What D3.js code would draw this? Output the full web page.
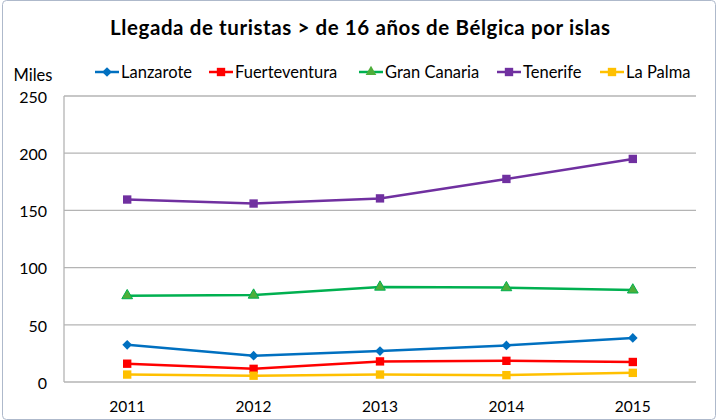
<!DOCTYPE html>
<html>
<head>
<meta charset="utf-8">
<script src="https://cdn.jsdelivr.net/npm/d3@7"></script>
<style>
  body { margin: 0; background: #fff; }
  text { font-family: Lato, "Open Sans", sans-serif; fill: #000; }
</style>
</head>
<body>
<div id="container"></div>
<script>
/* DATA */
const years = ["2011", "2012", "2013", "2014", "2015"];
const lanzarote = [32.5, 23, 27, 32, 38.5];
const fuerteventura = [16, 11.5, 18, 18.5, 17.5];
const granCanaria = [75.5, 76, 83, 82.5, 80.5];
const tenerife = [159.5, 156, 160.5, 177.5, 195];
const laPalma = [6.5, 5.5, 6.5, 6, 8];
const yTicks = [0, 50, 100, 150, 200, 250];

const series = [
  { name: "Lanzarote", values: lanzarote, color: "#0070C0", marker: "diamond" },
  { name: "Fuerteventura", values: fuerteventura, color: "#FF0000", marker: "square" },
  { name: "Gran Canaria", values: granCanaria, color: "#00B050", marker: "triangle" },
  { name: "Tenerife", values: tenerife, color: "#7030A0", marker: "square" },
  { name: "La Palma", values: laPalma, color: "#FFC000", marker: "square" }
];

/* CONSTANTS */
const width = 717;
const height = 420;
const plot = { left: 64, right: 696, top: 96, bottom: 382 };

const svg = d3.select("#container").append("svg")
  .attr("width", width)
  .attr("height", height);

// chart border
svg.append("rect")
  .attr("x", 2.5).attr("y", 0.5)
  .attr("width", width - 4).attr("height", height - 1)
  .attr("rx", 4)
  .attr("fill", "#fff")
  .attr("stroke", "#AEB9CB");

/* SCALES */
const xScale = d3.scaleBand()
  .domain(years)
  .range([plot.left, plot.right]);

const yScale = d3.scaleLinear()
  .domain([0, 250])
  .range([plot.bottom, plot.top]);

// gridlines
svg.append("g")
  .selectAll("line")
  .data(yTicks)
  .join("line")
  .attr("x1", plot.left)
  .attr("x2", plot.right)
  .attr("y1", d => yScale(d))
  .attr("y2", d => yScale(d))
  .attr("stroke", "#B4B4B4")
  .attr("stroke-width", 1.3);

// left axis line
svg.append("line")
  .attr("x1", plot.left).attr("x2", plot.left)
  .attr("y1", plot.top).attr("y2", plot.bottom)
  .attr("stroke", "#B4B4B4")
  .attr("stroke-width", 1.3);

// y tick labels
svg.append("g")
  .selectAll("text")
  .data(yTicks)
  .join("text")
  .attr("x", 47)
  .attr("y", d => yScale(d) + 1)
  .attr("dy", "0.36em")
  .attr("text-anchor", "end")
  .attr("font-size", 16)
  .text(d => d);

svg.append("text")
  .attr("x", 33).attr("y", 75)
  .attr("dy", "0.36em")
  .attr("text-anchor", "middle")
  .attr("font-size", 16.5)
  .text("Miles");

// x tick labels
svg.append("g")
  .selectAll("text")
  .data(years)
  .join("text")
  .attr("x", d => xScale(d) + xScale.bandwidth() / 2)
  .attr("y", 406)
  .attr("dy", "0.36em")
  .attr("text-anchor", "middle")
  .attr("font-size", 15.5)
  .text(d => d);

// title
svg.append("text")
  .attr("x", 360).attr("y", 28)
  .attr("dy", "0.36em")
  .attr("text-anchor", "middle")
  .attr("font-size", 20.5)
  .attr("font-weight", "bold")
  .attr("textLength", 500)
  .attr("lengthAdjust", "spacing")
  .text("Llegada de turistas > de 16 años de Bélgica por islas");

const symbolFor = m => m === "diamond" ? d3.symbol(d3.symbolDiamond2, 60)
  : m === "triangle" ? d3.symbol(d3.symbolTriangle, 50)
  : d3.symbol(d3.symbolSquare, 70);

const line = d3.line()
  .x((d, i) => xScale(years[i]) + xScale.bandwidth() / 2)
  .y(d => yScale(d));

/* LINES AND MARKERS */
series.forEach(s => {
  svg.append("path")
    .datum(s.values)
    .attr("d", line)
    .attr("fill", "none")
    .attr("stroke", s.color)
    .attr("stroke-width", 2.5);

  svg.append("g")
    .selectAll("path")
    .data(s.values)
    .join("path")
    .attr("transform", (d, i) => `translate(${xScale(years[i]) + xScale.bandwidth() / 2},${yScale(d)})`)
    .attr("d", symbolFor(s.marker))
    .attr("fill", s.marker === "triangle" ? "#4DAE3A" : s.color)
    .attr("stroke", s.marker === "triangle" ? "#00B050" : "none");
});

/* LEGEND */
const legendX = [95, 209, 359, 497, 600];
const legend = svg.append("g");
series.forEach((s, i) => {
  const g = legend.append("g").attr("transform", `translate(${legendX[i]},72)`);
  g.append("line")
    .attr("x1", 0).attr("x2", 24)
    .attr("stroke", s.color)
    .attr("stroke-width", 2.5);
  g.append("path")
    .attr("transform", "translate(12,0)")
    .attr("d", symbolFor(s.marker))
    .attr("fill", s.marker === "triangle" ? "#4DAE3A" : s.color);
  g.append("text")
    .attr("x", 26)
    .attr("dy", "0.36em")
    .attr("font-size", 16.5)
    .text(s.name);
});
</script>
</body>
</html>
